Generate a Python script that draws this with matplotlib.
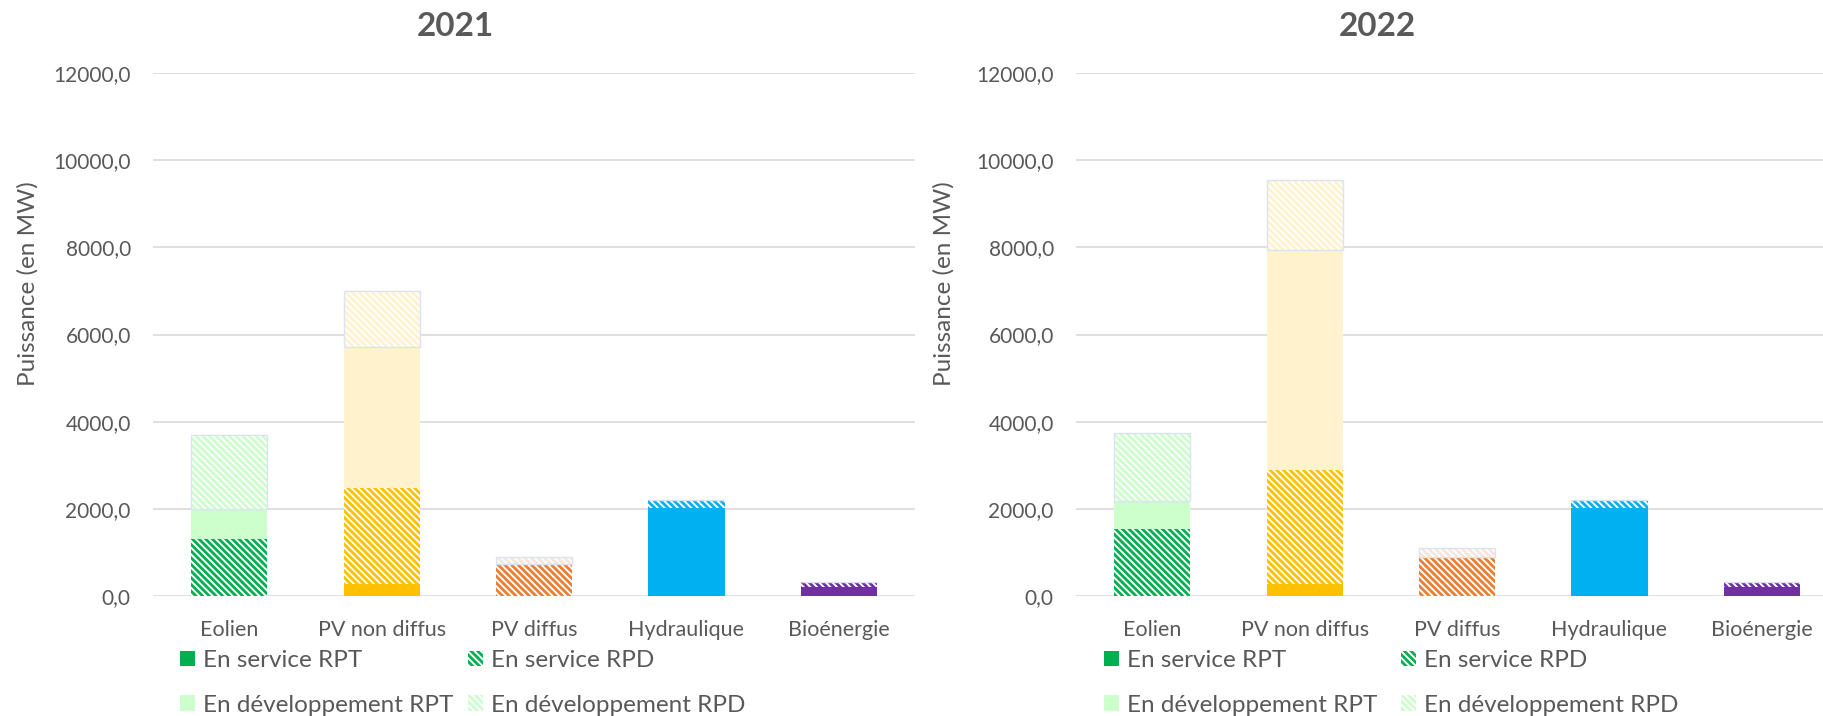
import matplotlib
matplotlib.use("Agg")
import matplotlib.pyplot as plt
from matplotlib.ticker import FuncFormatter

# data (MW)
categories = ["Eolien", "PV non diffus", "PV diffus", "Hydraulique", "Bioénergie"]
years = ["2021", "2022"]

svc_rpt_2021 = [0, 270, 0, 2015, 200]
svc_rpd_2021 = [1305, 2200, 745, 180, 110]
dev_rpt_2021 = [695, 3240, 0, 0, 0]
dev_rpd_2021 = [1695, 1285, 160, 0, 0]

svc_rpt_2022 = [0, 285, 0, 2030, 205]
svc_rpd_2022 = [1535, 2605, 905, 175, 115]
dev_rpt_2022 = [650, 5055, 0, 0, 0]
dev_rpd_2022 = [1550, 1595, 190, 0, 0]

series_names = ["En service RPT", "En service RPD", "En développement RPT", "En développement RPD"]

# colours per category: strong (en service) and light (en développement)
strong_cols = ["#00B050", "#FFC000", "#ED7D31", "#00B0F0", "#7030A0"]
light_cols = ["#CCFFCC", "#FFF2CC", "#FBE5D6", "#DDEBF7", "#E4D5F0"]

GREY = "#595959"
GRID = "#D9D9D9"
HATCH = "\\" * 5

plt.rcParams['font.family'] = ['Lato', 'DejaVu Sans']
plt.rcParams['hatch.linewidth'] = 2.0

W, H = 1823, 716
fig = plt.figure(figsize=(W / 100, H / 100), dpi=100)


def fmt(v, pos):
    return f"{v:.1f}".replace(".", ",")


def draw_year(ax, svc_rpt, svc_rpd, dev_rpt, dev_rpd):
    x = range(len(categories))
    w = 0.5
    b1 = list(svc_rpt)
    b2 = [a + b for a, b in zip(b1, svc_rpd)]
    b3 = [a + b for a, b in zip(b2, dev_rpt)]

    h1 = ax.bar(x, svc_rpt, w, color=strong_cols, linewidth=0, zorder=2)
    h2 = ax.bar(x, svc_rpd, w, bottom=b1, facecolor="white", edgecolor=strong_cols,
                hatch=HATCH, linewidth=0, zorder=2)
    h3 = ax.bar(x, dev_rpt, w, bottom=b2, color=light_cols, linewidth=0, zorder=2)
    h4 = ax.bar(x, dev_rpd, w, bottom=b3, facecolor="white", edgecolor=light_cols,
                hatch=HATCH, linewidth=0, zorder=2)
    # thin light outline around the development RPD part
    ax.bar(x, dev_rpd, w, bottom=b3, fill=False, edgecolor="#DAE3F3", linewidth=1.0, zorder=3)

    ax.set_ylim(0, 12000)
    ax.set_xlim(-0.5, len(categories) - 0.5)
    ax.set_yticks(range(0, 12001, 2000))
    ax.yaxis.set_major_formatter(FuncFormatter(fmt))
    ax.set_xticks(list(x))
    ax.set_xticklabels(categories, fontsize=15.5)
    ax.grid(axis="y", color=GRID, linewidth=1.2, zorder=0)
    ax.set_axisbelow(True)
    for s in ax.spines.values():
        s.set_visible(False)
    ax.tick_params(axis="both", length=0, colors=GREY)
    ax.tick_params(axis="y", pad=16, labelsize=15)
    ax.tick_params(axis="x", pad=17)
    return h1, h2, h3, h4


ax_w = 762 / W
ax_b = (H - 596) / H
ax_h = (596 - 73) / H
axes = [fig.add_axes([153 / W, ax_b, ax_w, ax_h]),
        fig.add_axes([1076 / W, ax_b, ax_w, ax_h])]

data = [(svc_rpt_2021, svc_rpd_2021, dev_rpt_2021, dev_rpd_2021),
        (svc_rpt_2022, svc_rpd_2022, dev_rpt_2022, dev_rpd_2022)]
title_x = [455, 1377]
ylab_x = [28, 944]
leg_x = [180, 1104]
col_space = [0.6, 0.95]

for ax, d, yr, tx, lx, gx, cs in zip(axes, data, years, title_x, ylab_x, leg_x, col_space):
    h1, h2, h3, h4 = draw_year(ax, *d)
    fig.text(tx / W, 1 - 26 / H, yr, ha="center", va="center", fontsize=24,
             fontweight="bold", color=GREY)
    fig.text(lx / W, 1 - 284 / H, "Puissance (en MW)", rotation=90, ha="center",
             va="center", fontsize=17.5, color=GREY)
    handles = [h1.patches[0], h3.patches[0], h2.patches[0], h4.patches[0]]
    labels = [series_names[0], series_names[2], series_names[1], series_names[3]]
    fig.legend(handles, labels, ncol=2, loc="upper left",
               bbox_to_anchor=(gx / W, 1 - 650 / H), frameon=False,
               fontsize=17.5, labelcolor=GREY, handlelength=0.62, handleheight=0.62,
               handletextpad=0.33, columnspacing=cs, labelspacing=0.98,
               borderpad=0, borderaxespad=0)

fig.savefig("out.png", dpi=100)
